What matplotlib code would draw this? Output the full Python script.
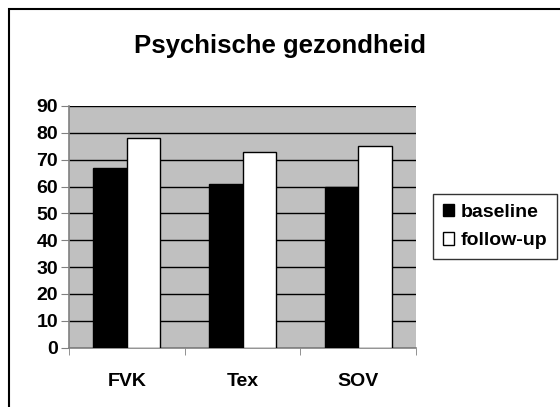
import numpy as np
import matplotlib
matplotlib.use("Agg")
import matplotlib.pyplot as plt
from matplotlib.patches import Patch, Rectangle

categories = ["FVK", "Tex", "SOV"]
baseline = [67, 61, 60]
follow_up = [78, 73, 75]
yticks = [0, 10, 20, 30, 40, 50, 60, 70, 80, 90]

plt.rcParams["font.family"] = ["Liberation Sans", "DejaVu Sans"]
plt.rcParams["font.weight"] = "bold"

W, H = 560, 407
fig = plt.figure(figsize=(W / 100, H / 100), dpi=100)

# outer chart frame (only top/left visible in the original)
fig.patches.append(Rectangle((9 / W, -0.1), 1.2, (H - 9) / H + 0.1,
                             transform=fig.transFigure, fill=False,
                             edgecolor="black", lw=1.5))

ax = fig.add_axes([69 / W, (H - 347.5) / H, (416 - 69) / W, (347.5 - 106) / H])
ax.set_facecolor("#C0C0C0")

x = np.arange(len(categories))
bw = 0.29
ax.bar(x - bw / 2, baseline, bw, color="black", edgecolor="black", lw=1, zorder=3)
ax.bar(x + bw / 2, follow_up, bw, color="white", edgecolor="black", lw=1, zorder=3)

ax.set_xlim(-0.5, 2.5)
ax.set_ylim(0, 90)
ax.set_yticks(yticks)
ax.yaxis.grid(True, color="black", lw=1, zorder=1)
ax.set_axisbelow(True)

ax.set_xticks(x)
ax.set_xticklabels(categories, fontsize=14, fontweight="bold")
ax.tick_params(axis="x", which="major", length=0, pad=18)
ax.set_xticks([-0.5, 0.5, 1.5, 2.5], minor=True)
ax.tick_params(axis="x", which="minor", length=5, color="#808080")
ax.tick_params(axis="y", length=6, color="#808080", labelsize=14, pad=2)
for lab in ax.get_yticklabels():
    lab.set_fontweight("bold")

for s in ["top", "right"]:
    ax.spines[s].set_visible(False)
for s in ["left", "bottom"]:
    ax.spines[s].set_color("#808080")
    ax.spines[s].set_linewidth(1.2)

fig.text(280 / W, 1 - 46 / H, "Psychische gezondheid", ha="center", va="center",
         fontsize=18.5, fontweight="bold")

handles = [Patch(facecolor="black", edgecolor="black", label="baseline"),
           Patch(facecolor="white", edgecolor="black", label="follow-up")]
leg = fig.legend(handles=handles, loc="center left",
                 bbox_to_anchor=(433 / W, 1 - 226.5 / H),
                 frameon=True, fancybox=False, edgecolor="black",
                 fontsize=14, handlelength=0.6, handleheight=0.6,
                 handletextpad=0.3, borderpad=0.5, labelspacing=0.6,
                 borderaxespad=0)
leg.get_frame().set_linewidth(1)
for t in leg.get_texts():
    t.set_fontweight("bold")

fig.savefig("out.png", dpi=100)
